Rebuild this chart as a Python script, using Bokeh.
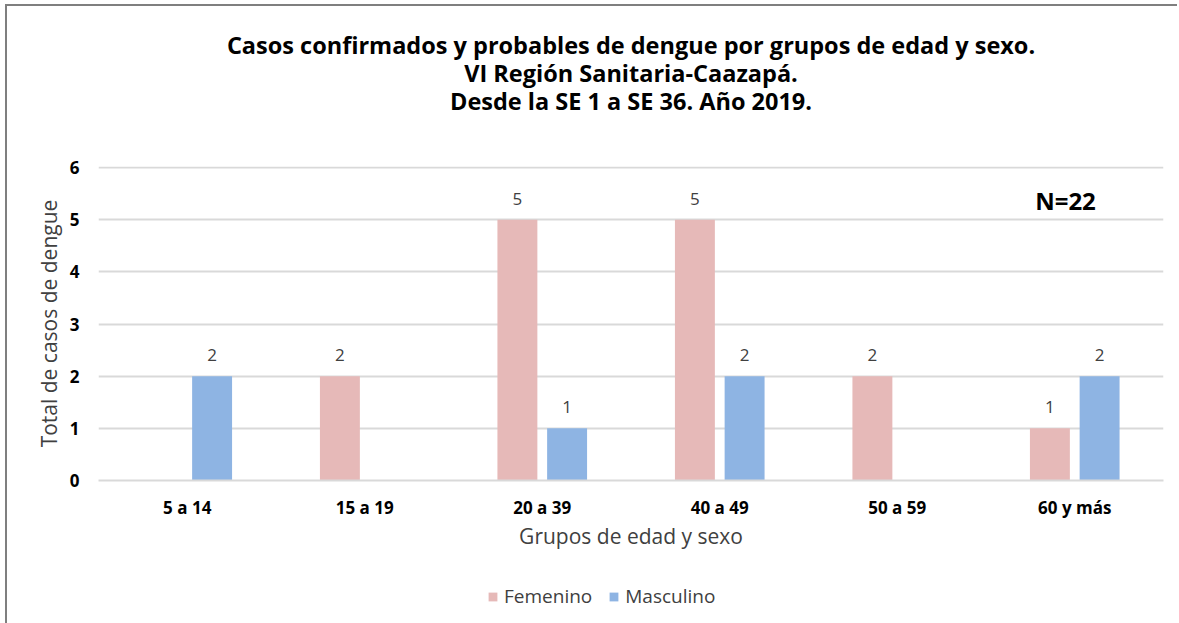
from bokeh.plotting import figure
from bokeh.layouts import column
from bokeh.models import (ColumnDataSource, FactorRange, LabelSet, Label, Legend, LegendItem,
                          Range1d, FixedTicker, Title)
from bokeh.transform import dodge
from bokeh.core.properties import value
from bokeh.embed import file_html
from bokeh.resources import INLINE

# ---- data ----
categories = ["5 a 14", "15 a 19", "20 a 39", "40 a 49", "50 a 59", "60 y más"]
femenino = [0, 2, 5, 5, 2, 1]
masculino = [2, 0, 1, 2, 0, 2]
series_names = ["Femenino", "Masculino"]
title_lines = ["Casos confirmados y probables de dengue por grupos de edad y sexo.",
               "VI Región Sanitaria-Caazapá.",
               "Desde la SE 1 a SE 36. Año 2019."]
y_ticks = [0, 1, 2, 3, 4, 5, 6]
n_text = "N=22"

FONT = "Open Sans"
COL_F = "#E6B9B8"
COL_M = "#8EB4E3"

src = ColumnDataSource(dict(
    cat=categories,
    fem=femenino,
    mas=masculino,
    fem_lab=[str(v) if v else "" for v in femenino],
    mas_lab=[str(v) if v else "" for v in masculino],
))

p = figure(x_range=FactorRange(*categories, range_padding=0), y_range=Range1d(0, 6.02),
           frame_width=1065, frame_height=314, output_backend="svg", toolbar_location=None,
           min_border_left=91, min_border_right=14, min_border_top=160, min_border_bottom=90)
p.outline_line_color = None
p.background_fill_color = "white"
p.border_fill_color = "white"

bw = 0.225
off = 0.14
r_f = p.vbar(x=dodge("cat", -off, range=p.x_range), top="fem", width=bw, source=src,
             color=COL_F, line_color=None)
r_m = p.vbar(x=dodge("cat", off, range=p.x_range), top="mas", width=bw, source=src,
             color=COL_M, line_color=None)

lab_style = dict(text_font=value(FONT), text_font_size="17px", text_color="#404040",
                 text_align="center", text_baseline="bottom", y_offset=15, source=src)
p.add_layout(LabelSet(x=dodge("cat", -off, range=p.x_range), y="fem", text="fem_lab", **lab_style))
p.add_layout(LabelSet(x=dodge("cat", off, range=p.x_range), y="mas", text="mas_lab", **lab_style))

# axes
p.yaxis.ticker = FixedTicker(ticks=y_ticks)
p.yaxis.axis_line_color = None
p.yaxis.major_tick_line_color = None
p.yaxis.minor_tick_line_color = None
p.yaxis.major_label_text_font = FONT
p.yaxis.major_label_text_font_style = "bold"
p.yaxis.major_label_text_font_size = "17px"
p.yaxis.major_label_text_color = "black"
p.yaxis.major_label_standoff = 13
p.yaxis.axis_label = "Total de casos de dengue"
p.yaxis.axis_label_text_font = FONT
p.yaxis.axis_label_text_font_style = "normal"
p.yaxis.axis_label_text_font_size = "21px"
p.yaxis.axis_label_text_color = "#404040"
p.yaxis.axis_label_standoff = 4

p.xaxis.axis_line_color = "#D9D9D9"
p.xaxis.axis_line_width = 2
p.xaxis.major_tick_line_color = None
p.xaxis.minor_tick_line_color = None
p.xaxis.major_tick_out = 0
p.xaxis.major_label_text_font = FONT
p.xaxis.major_label_text_font_style = "bold"
p.xaxis.major_label_text_font_size = "17px"
p.xaxis.major_label_text_color = "black"
p.xaxis.major_label_standoff = 15
p.xaxis.axis_label = "Grupos de edad y sexo"
p.xaxis.axis_label_text_font = FONT
p.xaxis.axis_label_text_font_style = "normal"
p.xaxis.axis_label_text_font_size = "21px"
p.xaxis.axis_label_text_color = "#404040"
p.xaxis.axis_label_standoff = 0

p.xgrid.grid_line_color = None
p.ygrid.grid_line_color = "#D9D9D9"
p.ygrid.grid_line_width = 2
p.ygrid.ticker = FixedTicker(ticks=y_ticks)

# title lines: a blank spacer next to the frame, then the three lines stacked upward
p.add_layout(Title(text="\u00a0", text_font=FONT, text_font_size="23.5px", standoff=18.5), "above")
title_offsets = [-8, 0, 0]
for t, o in reversed(list(zip(title_lines, title_offsets))):
    p.add_layout(Title(text=t, align="center", text_font=FONT, text_font_style="bold",
                       text_font_size="23.5px", text_color="black", standoff=-6.5, offset=o),
                 "above")

p.add_layout(Label(x=967, y=280, x_units="screen", y_units="screen", text=n_text,
                   text_font=FONT, text_font_style="bold", text_font_size="24px",
                   text_color="black", text_align="center", text_baseline="middle"))

# legend strip below the chart (proxy bars of the same data lie outside its visible range)
lg = figure(width=1170, height=53, x_range=FactorRange(*categories, range_padding=0),
            y_range=Range1d(100, 101), output_backend="svg", toolbar_location=None,
            x_axis_location=None, y_axis_location=None, min_border=0)
lg.grid.visible = False
lg.outline_line_color = None
lg.background_fill_color = "white"
lg.border_fill_color = "white"
lf = lg.vbar(x=dodge("cat", -off, range=lg.x_range), top="fem", width=bw, source=src,
             color=COL_F, line_color=None)
lm = lg.vbar(x=dodge("cat", off, range=lg.x_range), top="mas", width=bw, source=src,
             color=COL_M, line_color=None)
legend = Legend(items=[LegendItem(label=series_names[0], renderers=[lf]),
                       LegendItem(label=series_names[1], renderers=[lm])],
                orientation="horizontal", location=(389, 14),
                label_text_font=FONT, label_text_font_size="19px", label_text_color="#404040",
                glyph_width=11, glyph_height=11, spacing=16, label_standoff=6,
                border_line_color=None, background_fill_alpha=0, margin=0)
lg.add_layout(legend, "center")

page = column(p, lg, spacing=0,
              styles={"border-left": "2px solid #7f7f7f", "border-top": "2px solid #7f7f7f",
                      "margin-left": "5px", "margin-top": "4px"})

open("out.html", "w").write(file_html(page, INLINE))
